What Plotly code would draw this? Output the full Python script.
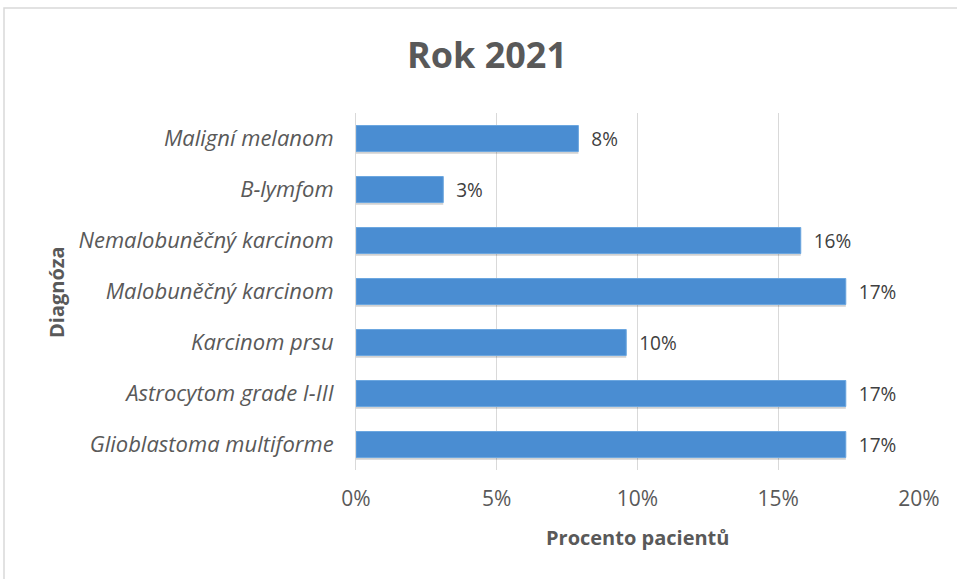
import plotly.graph_objects as go

# data (bottom -> top, as plotly draws horizontal bars)
diagnozy = [
    "Glioblastoma multiforme",
    "Astrocytom grade I-III",
    "Karcinom prsu",
    "Malobuněčný karcinom",
    "Nemalobuněčný karcinom",
    "B-lymfom",
    "Maligní melanom",
]
procenta = [0.174, 0.174, 0.096, 0.174, 0.158, 0.031, 0.079]
x_ticks = [0, 0.05, 0.10, 0.15, 0.20]

FONT = "'Open Sans', Lato, sans-serif"
GRAY = "#595959"

# plocha grafu v pixelech
L, R, T, B = 356, 919, 113, 470
PW, PH = R - L, B - T

fig = go.Figure()

# lehky stin pod sloupci
fig.add_trace(go.Bar(
    x=procenta, y=diagnozy, orientation="h",
    marker=dict(color="rgba(0,0,0,0.18)", line_width=0),
    width=0.51, offset=-0.3, hoverinfo="skip", showlegend=False,
))

fig.add_trace(go.Bar(
    x=procenta, y=diagnozy, orientation="h",
    marker=dict(color="#4A8DD2", line=dict(color="#6CA7E0", width=1)),
    width=0.51, offset=-0.255,
    texttemplate="\u00a0\u00a0%{x:.0%}", textposition="outside", cliponaxis=False,
    textfont=dict(family=FONT, size=22, color="#404040"),
    showlegend=False,
))

fig.update_layout(
    width=957, height=579,
    barmode="overlay",
    paper_bgcolor="white", plot_bgcolor="white",
    margin=dict(l=L, r=957 - R, t=T, b=579 - B),
    font=dict(family=FONT, color=GRAY),
    title=dict(text="<b>Rok 2021</b>", x=487 / 957, xanchor="center",
               y=1 - 55 / 579, yanchor="middle", yref="container",
               font=dict(size=36, color=GRAY, family=FONT)),
    xaxis=dict(
        range=[0, 0.2], tickvals=x_ticks, tickformat=".0%",
        showgrid=True, gridcolor="#D9D9D9", gridwidth=1,
        zeroline=False, showline=False, automargin=False,
        tickfont=dict(size=21, color=GRAY),
        ticklabelstandoff=14,
    ),
    yaxis=dict(
        categoryorder="array", categoryarray=diagnozy,
        showline=True, linecolor="#D9D9D9", linewidth=1,
        showgrid=False, zeroline=False, automargin=False,
        tickfont=dict(size=22, color=GRAY, style="italic"),
        ticklabelstandoff=17,
    ),
    annotations=[
        dict(text="<b>Procento pacientů</b>", xref="paper", yref="paper",
             x=(637 - L) / PW, y=(B - 537) / PH,
             xanchor="center", yanchor="middle", showarrow=False,
             font=dict(size=20, color=GRAY, family=FONT)),
        dict(text="<b>Diagnóza</b>", xref="paper", yref="paper",
             x=(56 - L) / PW, y=(B - 292) / PH, textangle=-90,
             xanchor="center", yanchor="middle", showarrow=False,
             font=dict(size=20, color=GRAY, family=FONT)),
    ],
)

# ramecek grafu (pravy a dolni okraj mimo obrazek)
fig.add_shape(type="rect", xref="paper", yref="paper",
              x0=(4 - L) / PW, x1=(975 - L) / PW,
              y0=(B - 600) / PH, y1=(B - 8) / PH,
              line=dict(color="#D9D9D9", width=1.5), layer="below")

fig.write_html("out.html", config={"displayModeBar": False},
               post_script="document.body.style.margin='0';")
